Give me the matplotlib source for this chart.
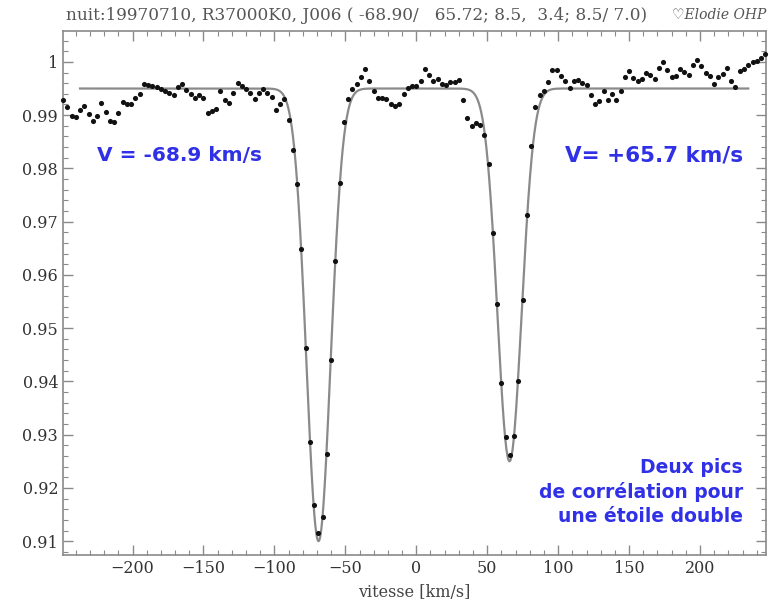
"""Fonction de corrélation ELODIE : étoile double (deux pics)."""

import numpy as np
import matplotlib
matplotlib.use("Agg")
import matplotlib.pyplot as plt
from matplotlib.ticker import MultipleLocator, FixedLocator

# vitesses des points de la corrélation (km/s)
vitesses = [
    -249, -246, -243, -240, -237, -234, -231, -228, -225, -222, -219, -216, -213, -210, -207,
    -204, -201, -198, -195, -192, -189, -186, -183, -180, -177, -174, -171, -168, -165, -162,
    -159, -156, -153, -150, -147, -144, -141, -138, -135, -132, -129, -126, -123, -120, -117,
    -114, -111, -108, -105, -102, -99, -96, -93, -90, -87, -84, -81, -78, -75, -72,
    -69, -66, -63, -60, -57, -54, -51, -48, -45, -42, -39, -36, -33, -30, -27,
    -24, -21, -18, -15, -12, -9, -6, -3, 0, 3, 6, 9, 12, 15, 18,
    21, 24, 27, 30, 33, 36, 39, 42, 45, 48, 51, 54, 57, 60, 63,
    66, 69, 72, 75, 78, 81, 84, 87, 90, 93, 96, 99, 102, 105, 108,
    111, 114, 117, 120, 123, 126, 129, 132, 135, 138, 141, 144, 147, 150, 153,
    156, 159, 162, 165, 168, 171, 174, 177, 180, 183, 186, 189, 192, 195, 198,
    201, 204, 207, 210, 213, 216, 219, 222, 225, 228, 231, 234, 237, 240, 243,
    246,
]

correlation = [
    0.9929, 0.9915, 0.9899, 0.9897, 0.9910, 0.9918, 0.9902, 0.9889, 0.9899, 0.9922, 0.9906, 0.9889, 0.9887, 0.9904, 0.9925,
    0.9920, 0.9921, 0.9932, 0.9940, 0.9959, 0.9956, 0.9954, 0.9953, 0.9950, 0.9946, 0.9942, 0.9937, 0.9953, 0.9958, 0.9948,
    0.9940, 0.9932, 0.9937, 0.9932, 0.9904, 0.9908, 0.9912, 0.9946, 0.9929, 0.9922, 0.9941, 0.9961, 0.9955, 0.9949, 0.9941,
    0.9931, 0.9942, 0.9949, 0.9941, 0.9935, 0.9910, 0.9921, 0.9931, 0.9890, 0.9835, 0.9770, 0.9649, 0.9463, 0.9286, 0.9168,
    0.9116, 0.9145, 0.9263, 0.9440, 0.9626, 0.9773, 0.9887, 0.9931, 0.9950, 0.9959, 0.9971, 0.9987, 0.9965, 0.9946, 0.9932,
    0.9932, 0.9931, 0.9921, 0.9917, 0.9921, 0.9940, 0.9951, 0.9954, 0.9954, 0.9965, 0.9986, 0.9976, 0.9964, 0.9967, 0.9959,
    0.9957, 0.9962, 0.9962, 0.9966, 0.9929, 0.9894, 0.9879, 0.9885, 0.9882, 0.9862, 0.9809, 0.9678, 0.9546, 0.9397, 0.9295,
    0.9262, 0.9298, 0.9400, 0.9552, 0.9713, 0.9842, 0.9915, 0.9937, 0.9946, 0.9962, 0.9984, 0.9985, 0.9974, 0.9965, 0.9951,
    0.9964, 0.9966, 0.9961, 0.9957, 0.9937, 0.9920, 0.9927, 0.9945, 0.9929, 0.9939, 0.9929, 0.9945, 0.9971, 0.9983, 0.9970,
    0.9964, 0.9967, 0.9979, 0.9976, 0.9967, 0.9989, 1.0000, 0.9984, 0.9971, 0.9973, 0.9986, 0.9981, 0.9976, 0.9995, 1.0004,
    0.9992, 0.9979, 0.9973, 0.9959, 0.9971, 0.9978, 0.9989, 0.9965, 0.9953, 0.9983, 0.9986, 0.9995, 0.9999, 1.0002, 1.0008,
    1.0014,
]

# paramètres de l'ajustement (deux gaussiennes, cf. en-tête)
centres = [-68.90, 65.72]
profondeurs = [0.085, 0.070]
largeurs = [8.5, 8.5]
continuum = 0.995
domaine_ajustement = [-237, 234]

titre = "nuit:19970710, R37000K0, J006 ( -68.90/   65.72; 8.5,  3.4; 8.5/ 7.0)"
signature = "\u2661Elodie OHP"

bleu = "#3030e6"
gris = "#8a8a8a"

fig = plt.figure(figsize=(7.69, 6.03), dpi=100)
ax = fig.add_axes([63 / 769, 48 / 603, 703 / 769, 524 / 603])

v_modele = np.linspace(domaine_ajustement[0], domaine_ajustement[1], 2000)
modele = np.full_like(v_modele, continuum)
for c, p, s in zip(centres, profondeurs, largeurs):
    modele -= p * np.exp(-0.5 * ((v_modele - c) / s) ** 2)
ax.plot(v_modele, modele, color=gris, lw=1.6, zorder=2)

ax.plot(vitesses, correlation, "o", color="#111111", ms=3.7, mec="none", zorder=3, clip_on=False)

ax.set_xlim(-249, 246.5)
ax.set_ylim(0.9074, 1.0058)

ax.xaxis.set_major_locator(MultipleLocator(50))
ax.xaxis.set_minor_locator(MultipleLocator(10))
ax.yaxis.set_major_locator(FixedLocator([0.91, 0.92, 0.93, 0.94, 0.95, 0.96, 0.97, 0.98, 0.99, 1.0]))
ax.yaxis.set_minor_locator(MultipleLocator(0.002))
ax.yaxis.set_major_formatter(plt.FuncFormatter(lambda y, _: f"{y:.2f}".rstrip("0").rstrip(".")))
ax.xaxis.set_major_formatter(plt.FuncFormatter(lambda x, _: f"{x:.0f}".replace("-", "\u2212")))

police = ["DejaVu Serif", "DejaVu Sans"]
ax.tick_params(which="both", direction="in", top=True, right=True, color=gris,
               labelsize=11.5, labelcolor="#333333")
ax.tick_params(which="major", length=7, width=1)
ax.tick_params(which="minor", length=3.5, width=0.8)
for lab in ax.get_xticklabels() + ax.get_yticklabels():
    lab.set_family(police)
for sp in ax.spines.values():
    sp.set_color(gris)
    sp.set_linewidth(1.2)

ax.set_xlabel("vitesse [km/s]", family=police, fontsize=11.5, color="#444444", labelpad=5)

fig.text(66 / 769, 1 - 15 / 603, titre, family=police, fontsize=12.2, color="#555555",
         ha="left", va="center")
fig.text(672 / 769, 1 - 15 / 603, signature, family=police, fontsize=10, style="italic",
         color="#555555", ha="left", va="center")

ax.text(0.048, 0.763, "V = -68.9 km/s", transform=ax.transAxes, color=bleu,
        fontsize=14.5, fontweight="bold", family="DejaVu Sans", ha="left", va="center")
ax.text(0.967, 0.763, "V= +65.7 km/s", transform=ax.transAxes, color=bleu,
        fontsize=15.5, fontweight="bold", family="DejaVu Sans", ha="right", va="center")
ax.text(0.967, 0.12, "Deux pics\nde corrélation pour\nune étoile double", transform=ax.transAxes,
        color=bleu, fontsize=13.5, fontweight="bold", family="DejaVu Sans", ha="right",
        va="center", linespacing=1.3)

fig.savefig("out.png", dpi=100)
